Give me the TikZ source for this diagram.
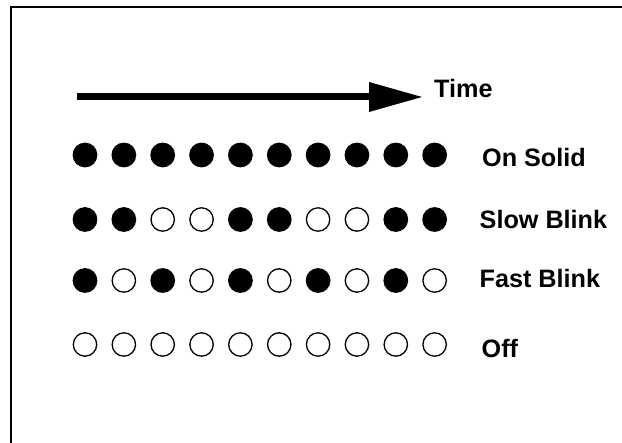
\documentclass[tikz,border=0pt]{standalone}
\usepackage{fontspec}
\setmainfont{Liberation Sans}
\begin{document}
\begin{tikzpicture}[x=1pt,y=-1pt,
  lbl/.style={anchor=base west,inner sep=0pt,font=\fontsize{25.2}{29}\selectfont\bfseries},
  ledoff/.style={draw=black,line width=1.3pt,fill=white}]
\useasboundingbox (0,0) rectangle (622,443);
% frame (open at right and bottom)
\draw[line width=2pt] (11,443) -- (11,7) -- (622,7);
% time arrow
\coordinate (tailA) at (77,97);
\coordinate (baseA) at (369,97);
\coordinate (tipA) at (422,97);
\draw[line width=7pt] (tailA) -- (baseA);
\fill (369,82) -- (tipA) -- (369,112) -- cycle;
\node[lbl] (time) at (434,98) {Time};
% rows
\foreach \y/\pat in {155/{1,1,1,1,1,1,1,1,1,1},
                     219.5/{1,1,0,0,1,1,0,0,1,1},
                     280.5/{1,0,1,0,1,0,1,0,1,0},
                     344.5/{0,0,0,0,0,0,0,0,0,0}}{
  \foreach \s [count=\i from 0] in \pat {
    \ifnum\s=1
      \fill (85+\i*38.85,\y) circle (12.4);
    \else
      \draw[ledoff] (85+\i*38.85,\y) circle (11.7);
    \fi
  }
}
\node[lbl] (onsolid) at (482,167) {On Solid};
\node[lbl] (slow) at (479.5,229) {Slow Blink};
\node[lbl] (fast) at (479.5,287.5) {Fast Blink};
\node[lbl] (off) at (481.5,357.5) {Off};
\end{tikzpicture}
\end{document}
